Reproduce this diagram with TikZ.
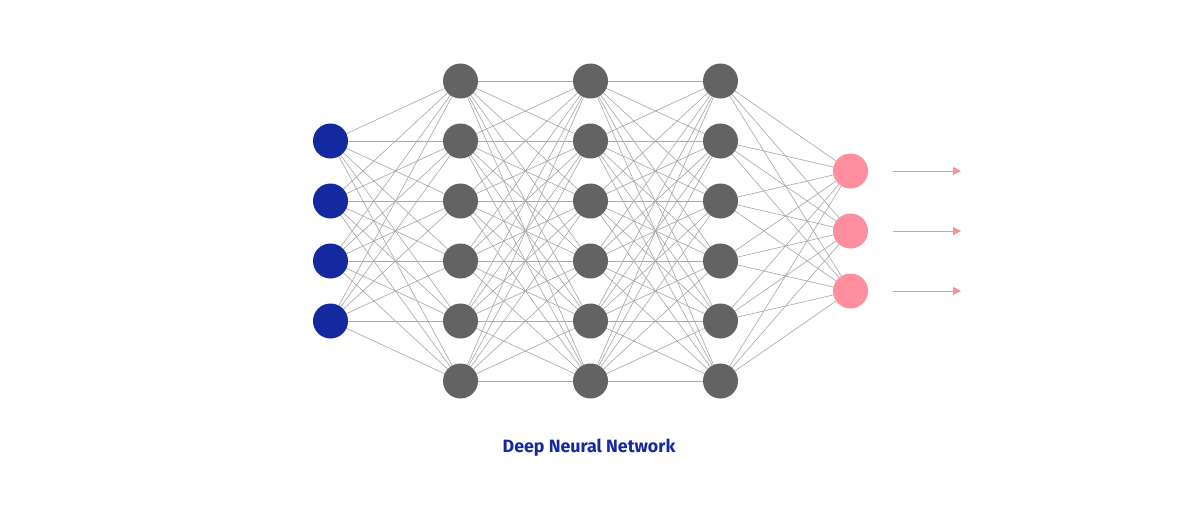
\documentclass[tikz,border=0pt]{standalone}
\usepackage{fontspec}
\setmainfont{Fira Sans}
\usetikzlibrary{arrows.meta}
\definecolor{inblue}{HTML}{14299F}
\definecolor{hidgray}{HTML}{636363}
\definecolor{outpink}{HTML}{FF8E9E}
\definecolor{edgegray}{HTML}{AAAAAA}
\tikzset{
  neuron/.style={circle,minimum size=35pt,inner sep=0pt,draw=none},
  innode/.style={neuron,fill=inblue},
  hidnode/.style={neuron,fill=hidgray},
  outnode/.style={neuron,fill=outpink},
  edge/.style={draw=edgegray,line width=0.65pt},
  outarrow/.style={draw=outpink,line width=0.8pt,-{Triangle[length=8pt,width=8pt]}},
}
\pgfdeclarelayer{bg}
\pgfsetlayers{bg,main}
\begin{document}
\begin{tikzpicture}[x=1pt,y=-1pt]
\useasboundingbox (0,0) rectangle (1180,512);
% nodes
\foreach \i/\yy in {1/141,2/201,3/261,4/321}
  \node[innode] (I\i) at (330.5,\yy) {};
\foreach \l/\xx in {1/460.5,2/590.5,3/720.5}{
  \foreach \j/\yy in {1/81,2/141,3/201,4/261,5/321,6/381}{
    \node[hidnode] (H\l-\j) at (\xx,\yy) {};
  }
}
\foreach \k/\yy in {1/171,2/231,3/291}
  \node[outnode] (O\k) at (850.5,\yy) {};
% edges
\begin{pgfonlayer}{bg}
\foreach \i in {1,...,4}
  \foreach \j in {1,...,6}
    \draw[edge] (I\i.center) -- (H1-\j.center);
\foreach \a/\b in {1/2,2/3}
  \foreach \i in {1,...,6}
    \foreach \j in {1,...,6}
      \draw[edge] (H\a-\i.center) -- (H\b-\j.center);
\foreach \i in {1,...,6}
  \foreach \k in {1,...,3}
    \draw[edge] (H3-\i.center) -- (O\k.center);
\end{pgfonlayer}
% output arrows
\foreach \k/\yy in {1/171,2/231,3/291} {
  \coordinate (S\k) at (893,\yy);
  \coordinate (E\k) at (961,\yy);
  \draw[outarrow] (S\k) -- (E\k);
}
\node[text=inblue,font=\fontsize{17.8pt}{21pt}\selectfont\bfseries] (title) at (589,448) {Deep Neural Network};
\end{tikzpicture}
\end{document}
